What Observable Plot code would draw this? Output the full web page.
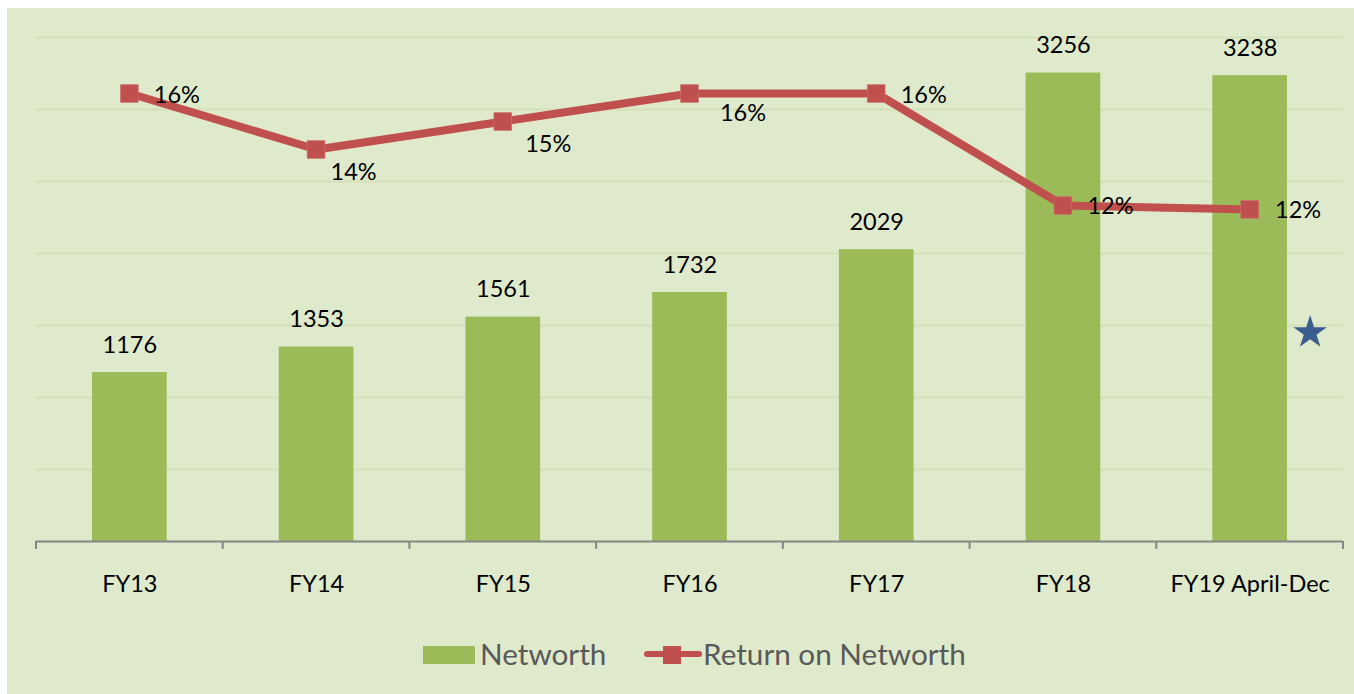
<!DOCTYPE html>
<html>
<head>
<meta charset="utf-8">
<script src="https://cdn.jsdelivr.net/npm/d3@7"></script>
<script src="https://cdn.jsdelivr.net/npm/@observablehq/plot@0.6"></script>
<style>
  html, body { margin: 0; padding: 0; width: 1354px; height: 694px; overflow: hidden; background: #fff; }
  #bg { position: absolute; left: 7px; top: 8px; width: 1347px; height: 686px; background: #dfe9cb; }
  #chart { position: absolute; left: 0; top: 0; }
  .lg { position: absolute; font-family: Lato, sans-serif; font-size: 29.7px; color: #595959; line-height: 36px; top: 635.5px; white-space: nowrap; }
  .sw { position: absolute; }
</style>
</head>
<body>
<div id="bg"></div>
<div id="chart"></div>
<div class="sw" style="left:423px;top:646px;width:52px;height:18px;background:#9bbb59"></div>
<div class="lg" style="left:480px">Networth</div>
<div class="sw" style="left:644px;top:651px;width:58px;height:6px;border-radius:3px;background:#c0504d"></div>
<div class="sw" style="left:663px;top:646px;width:18px;height:18px;background:#c0504d"></div>
<div class="lg" style="left:703px">Return on Networth</div>
<script>
const categories = ["FY13", "FY14", "FY15", "FY16", "FY17", "FY18", "FY19 April-Dec"];
const networth = [1176, 1353, 1561, 1732, 2029, 3256, 3238];
const returnPct = [16, 14, 15, 16, 16, 12, 11.86];
const returnLabels = ["16%", "14%", "15%", "16%", "16%", "12%", "12%"];
const gridValues = [500, 1000, 1500, 2000, 2500, 3000, 3500];

// The return series sits on a hidden secondary axis running 0–18 %.
const primaryMax = 3500, secondaryMax = 18;
const toPrimary = (p) => p * primaryMax / secondaryMax;

const bars = categories.map((c, i) => ({ c, v: networth[i] }));
const line = categories.map((c, i) => ({ c, v: toPrimary(returnPct[i]), t: returnLabels[i] }));

// Layout-only nudges for the percent labels, as placed in the original chart.
const labelNudge = [[47, 2], [37, 23], [45, 23], [53, 20], [47, 2], [47, 1], [48, 1]];

const width = 1354, marginLeft = 36, marginRight = 11, fontSize = 23.5;
const halfStep = (width - marginLeft - marginRight) / categories.length / 2;

const chart = Plot.plot({
  width, height: 694,
  marginTop: 37, marginBottom: 153, marginLeft, marginRight,
  style: { background: "transparent", fontFamily: "Lato, sans-serif", fontSize: fontSize + "px", color: "#000", overflow: "visible" },
  x: { domain: categories, paddingInner: 0.6, paddingOuter: 0.3, round: false, label: null },
  y: { domain: [0, primaryMax], axis: null, label: null },
  marks: [
    Plot.ruleY(gridValues, { stroke: "#d4e0b8", strokeWidth: 2 }),
    Plot.barY(bars, { x: "c", y: "v", fill: "#9bbb59", insetTop: 0.4 }),
    Plot.ruleY([0], { stroke: "#868686", strokeWidth: 2 }),
    Plot.ruleX(categories, { x: (d) => d, y1: 0, y2: -55, dx: -halfStep - 0.5, stroke: "#868686", strokeWidth: 2 }),
    Plot.ruleX(categories.slice(-1), { x: (d) => d, y1: 0, y2: -55, dx: halfStep - 0.5, stroke: "#868686", strokeWidth: 2 }),
    Plot.axisX({ tickSize: 0, tickPadding: 34, fontSize, fill: "#000", label: null }),
    Plot.line(line, { x: "c", y: "v", stroke: "#c0504d", strokeWidth: 8, strokeLinejoin: "round" }),
    Plot.dot(line, { x: "c", y: "v", symbol: "square", r: 10, fill: "#c0504d", stroke: "#cb6f6a", strokeWidth: 0.7, dx: -0.5 }),
    Plot.text(bars, { x: "c", y: "v", text: (d) => String(d.v), dy: -27, fontSize, fill: "#000" }),
    ...line.map((d, i) => Plot.text([d], { x: "c", y: "v", text: "t", dx: labelNudge[i][0], dy: labelNudge[i][1], fontSize, fill: "#000" })),
    Plot.dot([{ c: categories[6], v: 1451 }], { x: "c", y: "v", dx: 60, symbol: "star", r: 10.5, fill: "#3a5f8f" })
  ]
});
document.getElementById("chart").appendChild(chart);
</script>
</body>
</html>
